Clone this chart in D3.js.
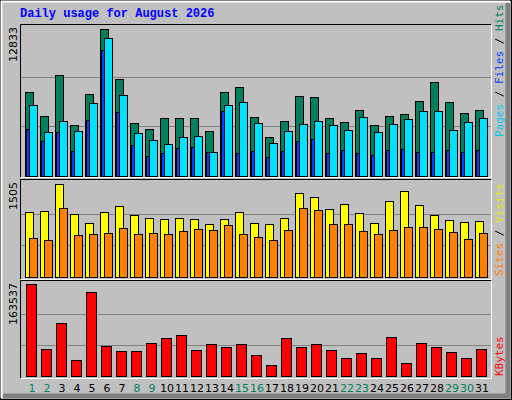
<!DOCTYPE html>
<html><head><meta charset="utf-8">
<script src="https://cdn.jsdelivr.net/npm/d3@7"></script>
<style>body{margin:0;background:#fff}svg{display:block}</style>
</head><body>
<svg id="chart" width="512" height="400"></svg>
<script>
const days = d3.range(1, 32);
const weekend = [1, 2, 8, 9, 15, 16, 22, 23, 29, 30];
const hits = [7231,5173,8689,4402,7060,12633,8346,4573,4059,5002,5002,5002,3887,7231,7660,5088,3373,4745,6888,6802,5002,4659,5688,4402,5173,5345,6459,8089,6374,5431,5688];
const files = [6116,3801,4745,3887,6288,11861,6974,3716,3115,2772,3373,3458,2086,6116,6374,4573,2858,3887,4487,4745,4402,3973,5088,3801,4487,4916,5602,5602,3973,4659,5002];
const pages = [4059,3030,3801,2172,4830,10833,5516,2687,1744,2001,2429,2515,2086,5602,2001,2172,1658,2172,3030,3201,2001,2258,2001,1829,2258,2344,2086,2086,2258,2086,2258];
const visits = [1025,1041,1473,993,851,1025,1120,977,930,914,930,914,835,914,1025,851,835,930,1326,1263,1072,1152,1009,851,1204,1358,1136,977,898,866,882];
const sites = [613,581,1088,660,676,692,771,676,692,676,724,756,740,819,676,629,581,740,1088,1057,835,835,724,676,740,787,787,756,708,597,692];
const kbytes = [161250,46950,92670,27610,147190,52230,43430,43430,57500,66290,71570,45190,55740,50470,55740,36400,18820,66290,50470,55740,45190,31120,39920,31120,68050,22330,57500,50470,41680,31120,46950];
const maxHits = 12833, maxVisits = 1505, maxKB = 163537;

const svg = d3.select('#chart');
const W = 512, H = 400;
svg.append('rect').attr('width', W).attr('height', H).attr('fill', '#c0c0c0');
// bevel
svg.append('rect').attr('x', 0.5).attr('y', 0.5).attr('width', W - 1).attr('height', H - 1).attr('fill', 'none').attr('stroke', '#000');
svg.append('path').attr('d', `M1.5,${H - 2}V1.5H${W - 2}`).attr('stroke', '#fff').attr('stroke-width', 2).attr('fill', 'none');
svg.append('path').attr('d', `M${W - 4},3V${H - 4}H3`).attr('stroke', '#808080').attr('stroke-width', 5).attr('fill', 'none');

svg.append('text').attr('x', 20).attr('y', 17).text('Daily usage for August 2026')
  .attr('fill', '#0000ff').attr('font-family', 'Liberation Mono, DejaVu Sans Mono, monospace')
  .attr('font-weight', 'bold').attr('font-size', 12);

const x = d3.scaleLinear().domain([1, 32]).range([25, 490]);
const L = 21, R = 491;

const panels = [
  { top: 25, bottom: 177, y0: 176, y1: 27, max: maxHits },
  { top: 180, bottom: 279, y0: 277, y1: 182, max: maxVisits },
  { top: 281, bottom: 378, y0: 376, y1: 283, max: maxKB }
];
panels.forEach(p => {
  p.y = d3.scaleLinear().domain([0, p.max]).range([p.y0, p.y1]);
  const g = svg.append('g');
  [1 / 3, 2 / 3].forEach(f => g.append('line').attr('x1', L).attr('x2', R)
    .attr('y1', Math.round(p.y(p.max * f)) + 0.5).attr('y2', Math.round(p.y(p.max * f)) + 0.5)
    .attr('stroke', '#808080'));
  g.append('path').attr('d', `M${L - 0.5},${p.bottom}V${p.top - 0.5}H${R}`).attr('stroke', '#000').attr('fill', 'none');
  g.append('path').attr('d', `M${R + 0.5},${p.top}V${p.bottom + 0.5}H${L}`).attr('stroke', '#fff').attr('fill', 'none');
  svg.append('text').attr('transform', `translate(17,${p.y1}) rotate(-90)`).attr('text-anchor', 'end')
    .attr('font-family', 'DejaVu Sans, sans-serif').attr('font-size', 11).attr('fill', '#000')
    .text(p.max);
});

function bars(vals, p, dx, w, color) {
  svg.append('g').selectAll('rect').data(vals).join('rect')
    .attr('x', (d, i) => x(days[i]) + dx + 0.5).attr('width', w)
    .attr('y', d => Math.round(p.y(d)) + 0.5).attr('height', d => p.y0 - Math.round(p.y(d)))
    .attr('fill', color).attr('stroke', '#000');
}
bars(hits, panels[0], 0, 8, '#00805c');
bars(pages, panels[0], 1, 4, '#0040ff');
bars(files, panels[0], 4, 8, '#00e0ff');
bars(visits, panels[1], 0, 8, '#ffff00');
bars(sites, panels[1], 4, 8, '#ff8000');
bars(kbytes, panels[2], 1, 10, '#ff0000');

svg.append('g').selectAll('text').data(days).join('text')
  .attr('x', d => x(d) + 7).attr('y', 392).attr('text-anchor', 'middle')
  .attr('font-family', 'DejaVu Sans, sans-serif').attr('font-size', 11)
  .attr('fill', d => weekend.includes(d) ? '#00805c' : '#000').text(d => d);

function rlabel(yEnd, parts) {
  const t = svg.append('text').attr('transform', `translate(503,${yEnd}) rotate(-90)`)
    .attr('font-family', 'DejaVu Sans Mono, monospace').attr('font-size', 11);
  parts.forEach(([s, c]) => t.append('tspan').attr('fill', c).text(s));
}
rlabel(137, [['Pages', '#00c8e8'], [' / ', '#000'], ['Files', '#0040ff'], [' / ', '#000'], ['Hits', '#00805c']]);
rlabel(276, [['Sites', '#ff8000'], [' / ', '#000'], ['Visits', '#e8e800']]);
rlabel(376, [['KBytes', '#ff0000']]);
</script>
</body></html>
